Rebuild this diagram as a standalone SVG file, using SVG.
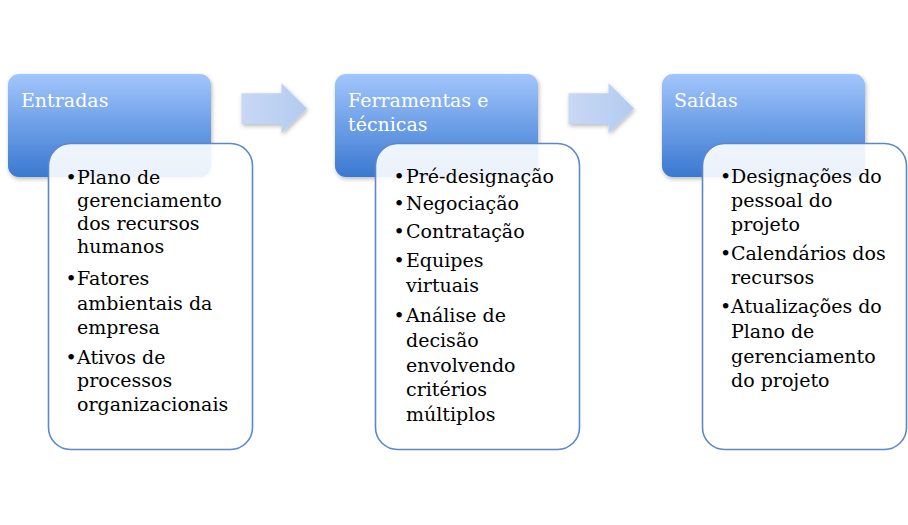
<svg xmlns="http://www.w3.org/2000/svg" width="908" height="525" viewBox="0 0 908 525">
<defs>
<linearGradient id="hdr" x1="0" y1="0" x2="0" y2="1">
<stop offset="0" stop-color="#a2c6fb"/>
<stop offset="0.5" stop-color="#6d9fe7"/>
<stop offset="1" stop-color="#3b78cf"/>
</linearGradient>
<linearGradient id="arw" x1="0" y1="0" x2="1" y2="0">
<stop offset="0" stop-color="#c8d8f4"/>
<stop offset="1" stop-color="#b3cbf1"/>
</linearGradient>
<filter id="sh" x="-10%" y="-10%" width="125%" height="130%">
<feDropShadow dx="1" dy="2" stdDeviation="2" flood-color="#000" flood-opacity="0.28"/>
</filter>
<path id="arrow" d="M0 10 H40 V0 L65.5 25.2 L40 50 V40.7 H0 Z"/>
</defs>
<style>
.hdr{fill:url(#hdr);filter:url(#sh)}
.box{fill:#ffffff;fill-opacity:0.9;stroke:#5a88cb;stroke-width:1.6}
.arw{fill:url(#arw);filter:url(#sh)}
.ht{font-family:"DejaVu Serif","Liberation Serif",serif;font-size:19px;fill:#ffffff}
.bt{font-family:"DejaVu Serif","Liberation Serif",serif;font-size:19px;fill:#000000}
.bul{font-family:"DejaVu Serif","Liberation Serif",serif;font-size:19px;fill:#000000}
</style>
<rect width="908" height="525" fill="#ffffff"/>

<g id="connectors">
<use href="#arrow" class="arw" x="241.5" y="83.3"/>
<use href="#arrow" class="arw" x="568.5" y="83.3"/>
</g>

<g id="node-entradas">
<rect class="hdr" x="8" y="74" width="203" height="103" rx="11"/>
<text class="ht" x="21" y="107">Entradas</text>
</g>
<g id="node-entradas-lista">
<rect class="box" x="48.5" y="143.5" width="204" height="306" rx="22"/>
<text class="bul" x="65.5" y="184">•</text>
<text class="bul" x="65.5" y="285">•</text>
<text class="bul" x="65.5" y="363.5">•</text>
<text class="bt">
<tspan x="77" y="184">Plano de</tspan>
<tspan x="77" y="207">gerenciamento</tspan>
<tspan x="77" y="230">dos recursos</tspan>
<tspan x="77" y="253">humanos</tspan>
<tspan x="77" y="285">Fatores</tspan>
<tspan x="77" y="309.5">ambientais da</tspan>
<tspan x="77" y="333.5">empresa</tspan>
<tspan x="77" y="363.5">Ativos de</tspan>
<tspan x="77" y="387">processos</tspan>
<tspan x="77" y="410.5">organizacionais</tspan>
</text>
</g>

<g id="node-ferramentas">
<rect class="hdr" x="335" y="74" width="203" height="103" rx="11"/>
<text class="ht"><tspan x="348" y="107">Ferramentas e</tspan><tspan x="348" y="131">técnicas</tspan></text>
</g>
<g id="node-ferramentas-lista">
<rect class="box" x="375.5" y="143.5" width="204" height="306" rx="22"/>
<text class="bul" x="393.5" y="182.7">•</text>
<text class="bul" x="393.5" y="210">•</text>
<text class="bul" x="393.5" y="238">•</text>
<text class="bul" x="393.5" y="267">•</text>
<text class="bul" x="393.5" y="321.5">•</text>
<text class="bt">
<tspan x="406" y="182.7">Pré-designação</tspan>
<tspan x="406" y="210">Negociação</tspan>
<tspan x="406" y="238">Contratação</tspan>
<tspan x="406" y="267">Equipes</tspan>
<tspan x="406" y="292">virtuais</tspan>
<tspan x="406" y="321.5">Análise de</tspan>
<tspan x="406" y="346.5">decisão</tspan>
<tspan x="406" y="371.5">envolvendo</tspan>
<tspan x="406" y="396">critérios</tspan>
<tspan x="406" y="420.5">múltiplos</tspan>
</text>
</g>

<g id="node-saidas">
<rect class="hdr" x="662" y="74" width="203" height="103" rx="11"/>
<text class="ht" x="674" y="107">Saídas</text>
</g>
<g id="node-saidas-lista">
<rect class="box" x="702.5" y="143.5" width="204" height="306" rx="22"/>
<text class="bul" x="720" y="182.7">•</text>
<text class="bul" x="720" y="260">•</text>
<text class="bul" x="720" y="313.3">•</text>
<text class="bt">
<tspan x="731" y="182.7">Designações do</tspan>
<tspan x="731" y="206.7">pessoal do</tspan>
<tspan x="731" y="230.5">projeto</tspan>
<tspan x="731" y="260">Calendários dos</tspan>
<tspan x="731" y="284.3">recursos</tspan>
<tspan x="731" y="313.3">Atualizações do</tspan>
<tspan x="731" y="338">Plano de</tspan>
<tspan x="731" y="362.5">gerenciamento</tspan>
<tspan x="731" y="386.7">do projeto</tspan>
</text>
</g>
</svg>
